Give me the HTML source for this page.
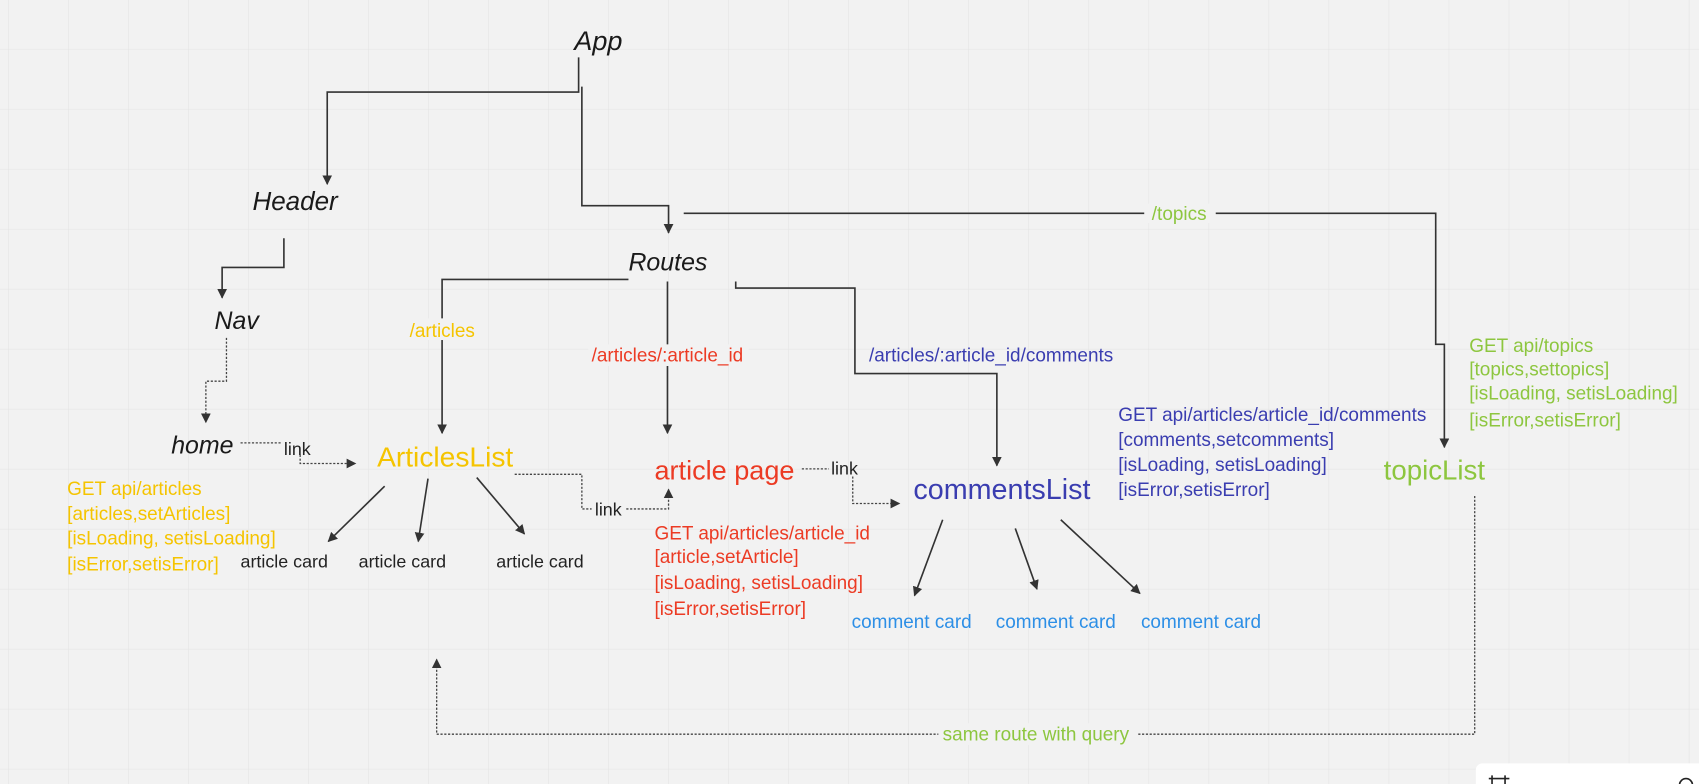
<!DOCTYPE html>
<html><head><meta charset="utf-8"><style>
html,body{margin:0;padding:0;background:#f2f2f2;overflow:hidden}
svg{display:block}
text{font-family:"Liberation Sans",sans-serif}
.it{font-style:italic;fill:#1a1a1a}
</style></head><body>
<svg width="1699" height="784" viewBox="0 0 1568 724" preserveAspectRatio="none" xmlns="http://www.w3.org/2000/svg">
<defs>
<pattern id="g" x="7.4" y="45.2" width="55.4" height="55.4" patternUnits="userSpaceOnUse">
<path d="M0 0H55.4M0 0V55.4" stroke="#e3e3e3" stroke-width="1" fill="none"/>
</pattern>
<marker id="a" viewBox="0 0 10 10" refX="9" refY="5" markerWidth="9" markerHeight="9" markerUnits="userSpaceOnUse" orient="auto">
<path d="M0 0L10 5L0 10z" fill="#333"/></marker>
</defs>
<rect width="1568" height="724" fill="#f2f2f2"/>
<rect width="1568" height="724" fill="url(#g)"/>
<g fill="none" stroke="#333" stroke-width="1.5">
<path d="M534 53V85H302V170" marker-end="url(#a)"/>
<path d="M537 80V190H617V215" marker-end="url(#a)"/>
<path d="M262 220V247H205V275" marker-end="url(#a)"/>
<path d="M580 258H408V400" marker-end="url(#a)"/>
<path d="M616 260V400" marker-end="url(#a)"/>
<path d="M679 260V266H789V345H920V430" marker-end="url(#a)"/>
<path d="M631 197H1325V318H1333V413" marker-end="url(#a)"/>
<path d="M355 449L303 500" marker-end="url(#a)"/>
<path d="M395 442L386 500" marker-end="url(#a)"/>
<path d="M440 441L484 493" marker-end="url(#a)"/>
<path d="M870 480L844 550" marker-end="url(#a)"/>
<path d="M937 488L957 544" marker-end="url(#a)"/>
<path d="M979 480L1052 548" marker-end="url(#a)"/>
</g>
<g fill="none" stroke="#444" stroke-width="1.2" stroke-dasharray="2 1.5">
<path d="M209 312V352H190V390" marker-end="url(#a)"/>
<path d="M222 409H260"/>
<path d="M277 420V428H328" marker-end="url(#a)"/>
<path d="M475 438H537V470H546"/>
<path d="M578 470H617V452" marker-end="url(#a)"/>
<path d="M740 433H765"/>
<path d="M787 440V465H830" marker-end="url(#a)"/>
<path d="M1361 458V678H403V609" marker-end="url(#a)"/>
</g>
<rect x="1056" y="188" width="66" height="18" fill="#f2f2f2"/>
<rect x="866" y="668" width="184" height="20" fill="#f2f2f2"/>
<rect x="375" y="294" width="68" height="20" fill="#f2f2f2"/>
<rect x="543" y="318" width="148" height="20" fill="#f2f2f2"/>

<text class="it" x="530" y="46" font-size="25">App</text>
<text class="it" x="233" y="194" font-size="24">Header</text>
<text class="it" x="580" y="250" font-size="23">Routes</text>
<text class="it" x="198" y="304" font-size="23">Nav</text>
<text class="it" x="158" y="419" font-size="23">home</text>
<g font-size="16.5" fill="#222">
<text x="262" y="420">link</text>
<text x="549" y="476">link</text>
<text x="767" y="438">link</text>
<text x="222" y="524">article card</text>
<text x="331" y="524">article card</text>
<text x="458" y="524">article card</text>
</g>
<text x="348" y="431" font-size="26" fill="#f5c400">ArticlesList</text>
<text x="604" y="443" font-size="25" fill="#ec3b24">article page</text>
<text x="843" y="461" font-size="26.5" fill="#3a3db0">commentsList</text>
<text x="1277" y="443" font-size="25.5" fill="#8dc63f">topicList</text>
<g font-size="17.5">
<text x="378" y="311" fill="#f5c400">/articles</text>
<text x="546" y="334" fill="#ec3b24">/articles/:article_id</text>
<text x="802" y="334" fill="#3a3db0">/articles/:article_id/comments</text>
<text x="1063" y="203" fill="#8dc63f">/topics</text>
<text x="870" y="684" fill="#8dc63f">same route with query</text>
<g fill="#f5c400"><text x="62" y="457">GET api/articles</text><text x="62" y="480">[articles,setArticles]</text><text x="62" y="503">[isLoading, setisLoading]</text><text x="62" y="527">[isError,setisError]</text></g>
<g fill="#ec3b24"><text x="604" y="498">GET api/articles/article_id</text><text x="604" y="520">[article,setArticle]</text><text x="604" y="544">[isLoading, setisLoading]</text><text x="604" y="568">[isError,setisError]</text></g>
<g fill="#3a3db0"><text x="1032" y="389">GET api/articles/article_id/comments</text><text x="1032" y="412">[comments,setcomments]</text><text x="1032" y="435">[isLoading, setisLoading]</text><text x="1032" y="458">[isError,setisError]</text></g>
<g fill="#8dc63f"><text x="1356" y="325">GET api/topics</text><text x="1356" y="347">[topics,settopics]</text><text x="1356" y="369">[isLoading, setisLoading]</text><text x="1356" y="394">[isError,setisError]</text></g>
<g fill="#2d8fe6"><text x="786" y="580">comment card</text><text x="919" y="580">comment card</text><text x="1053" y="580">comment card</text></g>
</g>
<rect x="1362" y="705" width="220" height="40" rx="6" fill="#fff"/>
<path d="M1377 716V724M1389 716V724M1374 719H1393" stroke="#222" stroke-width="1.5"/>
<circle cx="1556" cy="725" r="6" fill="none" stroke="#222" stroke-width="1.5"/>
</svg>
</body></html>
